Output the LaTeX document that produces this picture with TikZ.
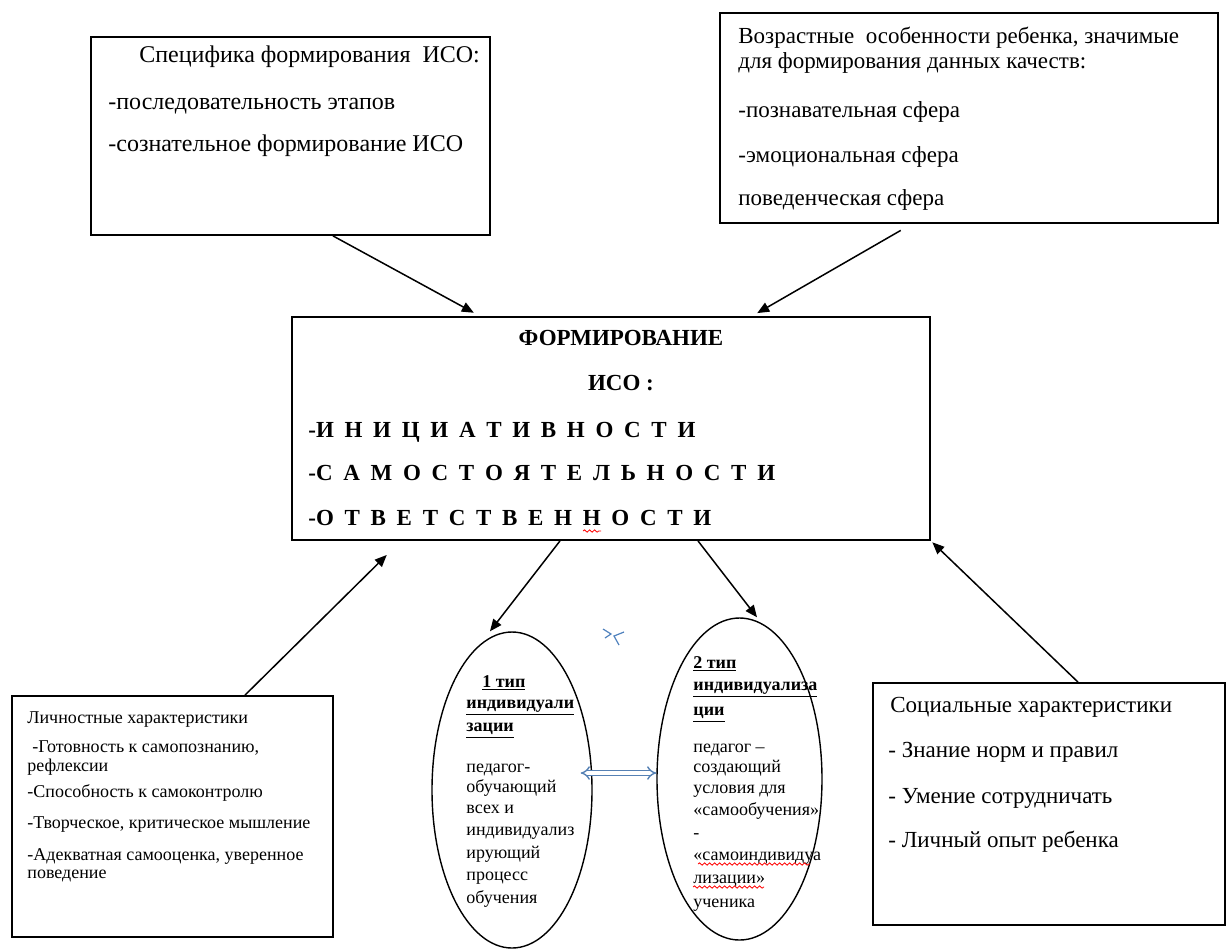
\documentclass[tikz,border=0pt]{standalone}
\usepackage{fontspec}
\setmainfont{Liberation Serif}
\usetikzlibrary{arrows.meta,shapes.geometric,fit,calc,decorations.pathmorphing}
\definecolor{dblblue}{RGB}{79,129,189}
\begin{document}
\begin{tikzpicture}[x=0.5pt,y=-0.5pt,
  box/.style={draw, line width=0.9pt, inner sep=0pt},
  oval/.style={draw, ellipse, line width=0.7pt, inner sep=0pt},
  arr/.style={line width=0.75pt, -{Triangle[length=6pt,width=5pt]}},
  txt/.style={inner sep=0pt, anchor=west, text height=0.7em, text depth=0.2em},
  big/.style={txt, font=\fontsize{11.5pt}{14pt}\selectfont},
  bigA/.style={txt, font=\fontsize{12pt}{14pt}\selectfont},
  bigb/.style={txt, font=\bfseries\fontsize{11.5pt}{14pt}\selectfont},
  small/.style={txt, font=\fontsize{9pt}{11pt}\selectfont},
  elt/.style={txt, font=\fontsize{9pt}{11pt}\selectfont},
  spell/.style={red, line width=0.4pt, decorate, decoration={snake, amplitude=0.6pt, segment length=2.5pt}},
  dbl/.style={dblblue!85!gray, line width=0.7pt, double=white, double distance=1.6pt, {Implies}-{Implies}}
]
\useasboundingbox (0,0) rectangle (1227,949);

% boxes
\node[box, fit={(91,37) (490,235)}] (A) {};
\node[box, fit={(720,13) (1218,223)}] (B) {};
\node[box, fit={(292,317) (930,540)}] (C) {};
\node[box, fit={(12,696) (333,937)}] (D) {};
\node[box, fit={(873,683) (1225,925)}] (E) {};
\node[oval, minimum width=80pt, minimum height=158pt] (E1) at (512,790) {};
\node[oval, minimum width=82.5pt, minimum height=161pt] (E2) at (739.5,779) {};

% box A text
\node[bigA] (a1) at (139,57) {Специфика формирования \ ИСО:};
\node[bigA] (a2) at (108,104) {-последовательность этапов};
\node[bigA] (a3) at (108,146) {-сознательное формирование ИСО};

% box B text
\node[big] (b1) at (738,38) {Возрастные \ особенности ребенка, значимые};
\node[big] (b2) at (738,63) {для формирования данных качеств:};
\node[big] (b3) at (738,112) {-познавательная сфера};
\node[big] (b4) at (738,157) {-эмоциональная сфера};
\node[big] (b5) at (738,200) {поведенческая сфера};

% box C text
\node[bigb, anchor=center] (c1) at (621,340) {ФОРМИРОВАНИЕ};
\node[bigb, anchor=center] (c2) at (621,385) {ИСО :};
\node[bigb] (c3) at (308,432) {\spaceskip=5.35pt -И Н И Ц И А Т И В Н О С Т И};
\node[bigb] (c4) at (308,475) {\spaceskip=5.35pt -С А М О С Т О Я Т Е Л Ь Н О С Т И};
\node[bigb] (c5) at (308,520) {\spaceskip=5.35pt -О Т В Е Т С Т В Е Н Н О С Т И};
\draw[spell] (583,531) -- (601,531);

% box D text
\node[small] (d1) at (27,718) {Личностные характеристики};
\node[small] (d2) at (32,747) {-Готовность к самопознанию,};
\node[small] (d3) at (27,766) {рефлексии};
\node[small] (d4) at (27,792) {-Способность к самоконтролю};
\node[small] (d5) at (27,823) {-Творческое, критическое мышление};
\node[small] (d6) at (27,855) {-Адекватная самооценка, уверенное};
\node[small] (d7) at (27,873) {поведение};

% box E text
\node[big] (e1) at (890,707) {Социальные характеристики};
\node[big] (e2) at (888,752) {- Знание норм и правил};
\node[big] (e3) at (888,798) {- Умение сотрудничать};
\node[big] (e4) at (888,842) {- Личный опыт ребенка};

% ellipse 1 text
\node[elt] (p1) at (482,682) {\textbf{\underline{1 тип}}};
\node[elt] (p2) at (466,703) {\textbf{\underline{индивидуали}}};
\node[elt] (p3) at (466,726) {\textbf{\underline{зации}}};
\node[elt] (p4) at (466,767) {педагог-};
\node[elt] (p5) at (466,787) {обучающий};
\node[elt] (p6) at (466,808) {всех и};
\node[elt] (p7) at (466,830) {индивидуализ};
\node[elt] (p8) at (466,853) {ирующий};
\node[elt] (p9) at (466,875) {процесс};
\node[elt] (p10) at (466,898) {обучения};

% ellipse 2 text
\node[elt] (q1) at (693,663) {\textbf{\underline{2 тип}}};
\node[elt] (q2) at (693,685) {\textbf{\underline{индивидуализа}}};
\node[elt] (q3) at (693,710) {\textbf{\underline{ции}}};
\node[elt] (q4) at (693,747) {педагог –};
\node[elt] (q5) at (693,767) {создающий};
\node[elt] (q6) at (693,788) {условия для};
\node[elt] (q7) at (693,810) {«самообучения»};
\node[elt] (q8) at (693,833) {-};
\node[elt] (q9) at (693,855) {«самоиндивидуа};
\node[elt] (q10) at (693,878) {лизации»};
\node[elt] (q11) at (693,902) {ученика};
\draw[spell] (698,864) -- (810,864);
\draw[spell] (693,887) -- (764,887);

% connectors
\draw[arr, shorten >=3.5pt] (A.south -| 333,0) -- (C.north -| 480,0);
\draw[arr, shorten <=6.5pt, shorten >=3pt] (B.south -| 912,0) -- (C.north -| 752,0);
\draw[arr, shorten >=10pt] (D.north -| 245,0) -- (C.south -| 401,0);
\draw[arr] (C.south -| 560,0) -- (E1.north -| 490,0);
\draw[arr] (C.south -| 698,0) -- (E2.north -| 757,0);
\draw[arr, shorten >=1pt] (E.north -| 1078,0) -- (C.south east);
\draw[dbl] ($(E1.east |- 0,773)+(-12,0)$) -- (E2.west |- 0,773);

% small blue mark
\draw[dblblue, line width=0.6pt] (603,629) -- (611,634) -- (605,638);
\draw[dblblue, line width=0.6pt] (624,632) -- (614,636) -- (619,645);
\end{tikzpicture}
\end{document}
